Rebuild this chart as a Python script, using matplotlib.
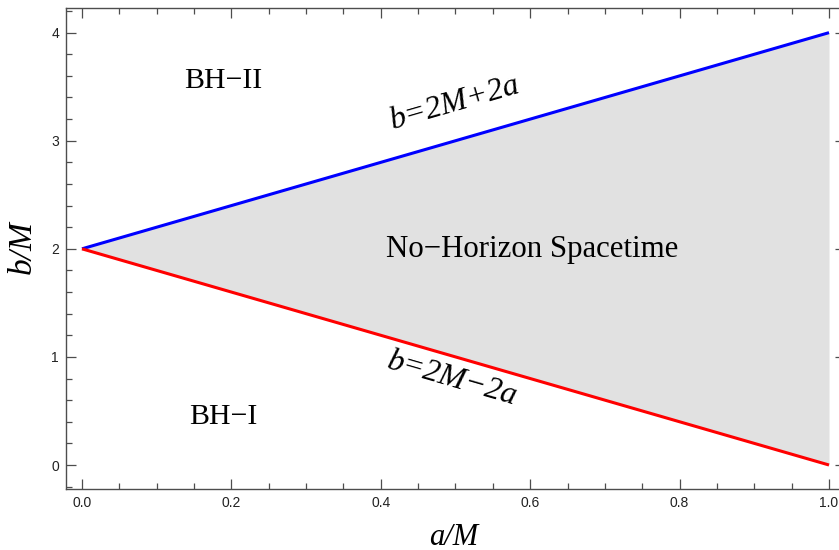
import matplotlib
matplotlib.use("Agg")
import matplotlib.pyplot as plt
from matplotlib.ticker import MultipleLocator, FormatStrFormatter

# data
a_vals = [0.0, 1.0]
b_upper = [2.0, 4.0]   # b = 2M + 2a
b_lower = [2.0, 0.0]   # b = 2M - 2a
x_ticks = [0.0, 0.2, 0.4, 0.6, 0.8, 1.0]
y_ticks = [0, 1, 2, 3, 4]

fig = plt.figure(figsize=(8.39, 5.5), dpi=100)
W, H = 839, 550
left, right, top, bottom = 66, 845, 8, 489
ax = fig.add_axes([left / W, 1 - bottom / H, (right - left) / W, (bottom - top) / H])

ax.fill_between(a_vals, b_lower, b_upper, color="#e1e1e1", lw=0, zorder=1)
ax.plot(a_vals, b_upper, color=(0, 0, 1), lw=2.2, zorder=3, solid_capstyle="butt")
ax.plot(a_vals, b_lower, color=(1, 0, 0), lw=2.2, zorder=3, solid_capstyle="butt")

ax.set_xlim(-0.0214, 1.0214)
ax.set_ylim(-0.222, 4.228)

ax.set_xticks(x_ticks)
ax.set_yticks(y_ticks)
ax.xaxis.set_major_formatter(FormatStrFormatter("%.1f"))
ax.yaxis.set_major_formatter(FormatStrFormatter("%d"))
ax.xaxis.set_minor_locator(MultipleLocator(0.05))
ax.yaxis.set_minor_locator(MultipleLocator(0.2))

fc = "#4d4d4d"
for s in ax.spines.values():
    s.set_color(fc)
    s.set_linewidth(1.0)
ax.tick_params(which="both", direction="in", top=True, right=True, colors=fc,
               labelcolor="#222222", labelsize=10, width=0.9)
ax.tick_params(which="major", length=7, pad=5)
ax.tick_params(which="minor", length=4)
for lab in ax.get_xticklabels() + ax.get_yticklabels():
    lab.set_family("Liberation Sans")

serif = "Liberation Serif"
ax.set_xlabel("a/M", fontsize=22, family=serif, style="italic")
ax.set_ylabel("b/M", fontsize=24, family=serif, style="italic")
ax.xaxis.label.set_verticalalignment("center")
ax.xaxis.set_label_coords(0.498, -0.1)
ax.yaxis.label.set_verticalalignment("center")
ax.yaxis.label.set_horizontalalignment("center")
ax.yaxis.set_label_coords(-0.0552, 0.503)

ax.text(0.189, 3.55, "BH\u2212II", fontsize=21.5, family=serif, ha="center", va="center")
ax.text(0.189, 0.44, "BH\u2212I", fontsize=21.5, family=serif, ha="center", va="center")
ax.text(0.603, 1.99, "No\u2212Horizon Spacetime", fontsize=22.2, family=serif,
        ha="center", va="center")

ax.text(0.5, 3.35, "b=2M+2a", fontsize=23, family=serif, style="italic",
        ha="center", va="center", rotation=16.1, rotation_mode="anchor")
ax.text(0.496, 0.79, "b=2M\u22122a", fontsize=23, family=serif, style="italic",
        ha="center", va="center", rotation=-16.1, rotation_mode="anchor")

fig.savefig("out.png", dpi=100)
